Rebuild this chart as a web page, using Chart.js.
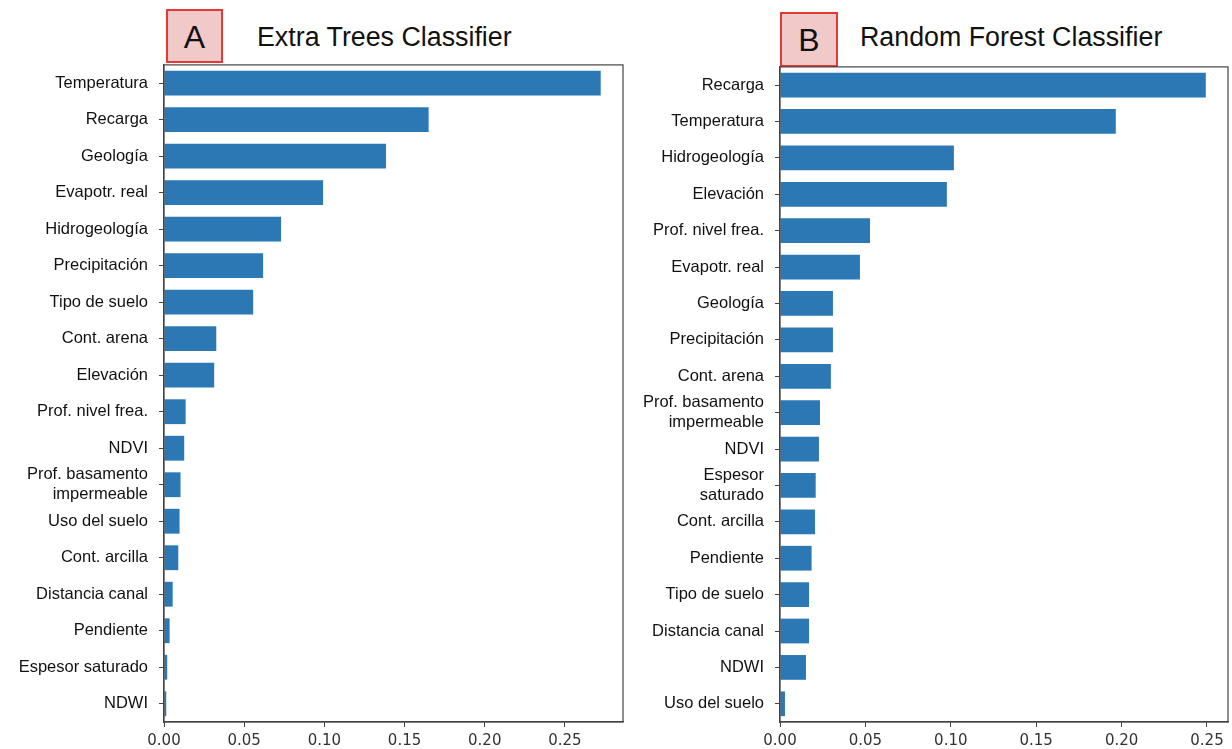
<!DOCTYPE html>
<html><head><meta charset="utf-8">
<script src="https://cdn.jsdelivr.net/npm/chart.js@4/dist/chart.umd.min.js"></script>
<style>
html,body{margin:0;padding:0;background:#fff;width:1232px;height:749px;overflow:hidden;position:relative;font-family:"Liberation Sans",Arial,sans-serif;}
.wrap{position:absolute;}
.title{position:absolute;font-size:26.8px;color:#111;white-space:nowrap;line-height:1;}
.box{position:absolute;background:#f2c9c9;border:2px solid #e53935;box-sizing:border-box;font-size:32px;color:#111;text-align:center;}
</style></head><body>
<div class="box" style="left:166px;top:9px;width:57px;height:54px;line-height:52px;">A</div>
<div class="title" style="left:257px;top:24px;">Extra Trees Classifier</div>
<div class="box" style="left:780px;top:12px;width:58px;height:55px;line-height:53px;">B</div>
<div class="title" style="left:860px;top:24px;">Random Forest Classifier</div>
<div class="wrap" style="left:0;top:44px;width:630px;height:711px;"><canvas id="cA"></canvas></div>
<div class="wrap" style="left:632px;top:46px;width:600px;height:709px;"><canvas id="cB"></canvas></div>
<script>
const labelsA = ["Temperatura","Recarga","Geología","Evapotr. real","Hidrogeología","Precipitación","Tipo de suelo","Cont. arena","Elevación","Prof. nivel frea.","NDVI",["Prof. basamento","impermeable"],"Uso del suelo","Cont. arcilla","Distancia canal","Pendiente","Espesor saturado","NDWI"];
const valuesA = [0.2723,0.165,0.1384,0.0992,0.073,0.0618,0.0556,0.0326,0.0313,0.0135,0.0126,0.0103,0.0097,0.0089,0.0054,0.0035,0.002,0.0014];
const labelsB = ["Recarga","Temperatura","Hidrogeología","Elevación","Prof. nivel frea.","Evapotr. real","Geología","Precipitación","Cont. arena",["Prof. basamento","impermeable"],"NDVI",["Espesor","saturado"],"Cont. arcilla","Pendiente","Tipo de suelo","Distancia canal","NDWI","Uso del suelo"];
const valuesB = [0.2493,0.1966,0.1018,0.0977,0.0527,0.0468,0.031,0.031,0.0298,0.0234,0.0228,0.0209,0.0205,0.0185,0.017,0.017,0.0152,0.0029];
const xTicks = [0,0.05,0.1,0.15,0.2,0.25];

const frame = {id:'frame',afterDraw(c){const a=c.chartArea,ctx=c.ctx;ctx.save();ctx.strokeStyle='#444';ctx.lineWidth=1.2;ctx.strokeRect(a.left,a.top,a.right-a.left,a.bottom-a.top);ctx.restore();}};

function make(id, labels, values, xmax, yWidth, padRight){
  new Chart(document.getElementById(id),{
    type:'bar',
    data:{labels:labels,datasets:[{data:values,backgroundColor:'#2b78b4',borderWidth:0,categoryPercentage:1,barPercentage:0.68}]},
    options:{
      indexAxis:'y',responsive:true,maintainAspectRatio:false,animation:false,
      layout:{padding:{top:5,right:padRight,left:0,bottom:0}},
      plugins:{legend:{display:false},tooltip:{enabled:false}},
      scales:{
        x:{type:'linear',min:0,max:xmax,
          afterBuildTicks(s){s.ticks=xTicks.map(v=>({value:v}));},
          grid:{drawOnChartArea:false,drawTicks:true,tickLength:5,color:'#444'},
          border:{display:true,color:'#444',width:1.2},
          ticks:{color:'#333',font:{family:'"DejaVu Sans"',size:15},padding:5,callback:v=>v.toFixed(2)}},
        y:{
          afterFit(s){s.width=yWidth;},
          grid:{drawOnChartArea:false,drawTicks:true,tickLength:5,offset:false,color:'#444'},
          border:{display:true,color:'#444',width:1.2},
          ticks:{color:'#111',font:{family:'"Liberation Sans"',size:16.5},padding:11,autoSkip:false}}
      }
    },
    plugins:[frame]
  });
}
make('cA',labelsA,valuesA,0.2862,164,7);
make('cB',labelsB,valuesB,0.2623,148,4);
</script>
</body></html>
